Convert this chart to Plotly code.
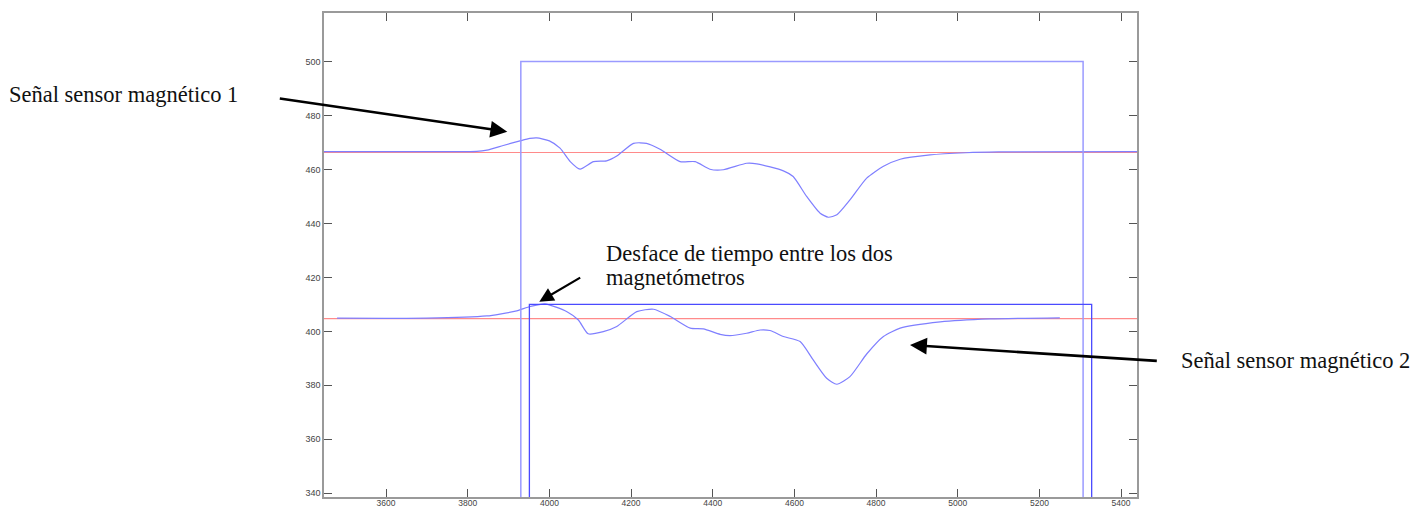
import plotly.graph_objects as go

# ---- data ----
sig1_x = [3448, 3690, 3822, 3847, 3887, 3928, 3952, 3969, 4000, 4026, 4051, 4075, 4108, 4140, 4165,
          4206, 4238, 4271, 4320, 4357, 4393, 4426, 4483, 4508, 4573, 4597, 4630, 4663, 4683,
          4704, 4736, 4777, 4817, 4859, 4932, 5020, 5100, 5439]
sig1_y = [466.6, 466.6, 466.7, 467.2, 468.9, 470.6, 471.5, 471.7, 470.6, 467.9, 462.9, 460.1, 462.9, 463.2, 465.0,
          469.7, 469.7, 467.5, 462.9, 462.9, 460.1, 459.9, 462.3, 462.1, 459.5, 457.4, 450.0, 443.8, 442.3,
          443.2, 448.7, 456.8, 461.1, 463.8, 465.4, 466.2, 466.5, 466.6]

sig2_x = [3480, 3700, 3847, 3879, 3920, 3953, 3989, 4043, 4071, 4095, 4132, 4165, 4214, 4255, 4296,
          4345, 4377, 4418, 4442, 4483, 4516, 4540, 4573, 4614, 4646, 4679, 4704, 4736, 4777,
          4818, 4859, 4957, 5079, 5250]
sig2_y = [404.9, 404.9, 405.7, 406.4, 407.6, 409.2, 410.2, 407.3, 404.2, 399.1, 399.9, 401.8, 407.3, 408.2, 405.5,
          401.2, 400.9, 398.9, 398.4, 399.3, 400.5, 400.3, 398.1, 396.2, 389.4, 382.6, 380.4, 383.2, 391.6,
          398.1, 401.2, 403.5, 404.6, 405.0]

ref1_x = [3448, 5439]
ref1_y = [466.3, 466.3]
ref2_x = [3448, 5439]
ref2_y = [404.7, 404.7]

pulse1_x = [3930, 3930, 5307, 5307]
pulse1_y = [0, 500, 500, 0]
pulse2_x = [3951, 3951, 5328, 5328]
pulse2_y = [0, 410, 410, 0]

x_range = [3448, 5439]
y_range = [338.6, 518]

labels = ["Señal sensor magnético 1", "Desface de tiempo entre los dos", "magnetómetros",
          "Señal sensor magnético 2"]

# ---- layout geometry (page pixels; page body has an 8px margin) ----
OFF = 8
W, H = 1424 - OFF, 508 - OFF
L, R, T, B = 324, 1137, 13, 497  # plot area in page pixels


def px_x(p):
    return (p - L) / (R - L)


def px_y(p):
    return (B - p) / (B - T)


fig = go.Figure()
fig.add_trace(go.Scatter(x=ref1_x, y=ref1_y, mode="lines", line=dict(color="#ff8a8a", width=1.2)))
fig.add_trace(go.Scatter(x=ref2_x, y=ref2_y, mode="lines", line=dict(color="#ff8a8a", width=1.2)))
fig.add_trace(go.Scatter(x=sig1_x, y=sig1_y, mode="lines", line=dict(color="#7f7fff", width=1.2, shape="spline", smoothing=0.6)))
fig.add_trace(go.Scatter(x=sig2_x, y=sig2_y, mode="lines", line=dict(color="#7f7fff", width=1.2, shape="spline", smoothing=0.6)))
fig.add_trace(go.Scatter(x=pulse1_x, y=pulse1_y, mode="lines", line=dict(color="#9a9aff", width=1.5)))
fig.add_trace(go.Scatter(x=pulse2_x, y=pulse2_y, mode="lines", line=dict(color="#4a4aff", width=1.3)))

font_txt = dict(family="Liberation Serif", size=22.5, color="#111111")
ann = []
ann.append(dict(text=labels[0], xref="paper", yref="paper", x=px_x(7), y=px_y(94.6),
                xanchor="left", yanchor="middle", showarrow=False, font=font_txt))
ann.append(dict(text=labels[1], xref="paper", yref="paper", x=px_x(604), y=px_y(254),
                xanchor="left", yanchor="middle", showarrow=False, font=font_txt))
ann.append(dict(text=labels[2], xref="paper", yref="paper", x=px_x(604), y=px_y(277.3),
                xanchor="left", yanchor="middle", showarrow=False, font=font_txt))
ann.append(dict(text=labels[3], xref="paper", yref="paper", x=px_x(1179), y=px_y(360.6),
                xanchor="left", yanchor="middle", showarrow=False, font=font_txt))

arrows = [((507.3, 131.7), (278.3, 98.3), 2.6),
          ((539.3, 301.7), (581.7, 276.7), 2.2),
          ((910.0, 345.0), (1158.3, 361.0), 2.6)]
for (tx, ty), (sx, sy), w in arrows:
    ann.append(dict(text="", xref="paper", yref="paper", x=px_x(tx), y=px_y(ty),
                    ax=sx - tx, ay=sy - ty, axref="pixel", ayref="pixel",
                    showarrow=True, arrowhead=2, arrowsize=1.3, arrowwidth=w,
                    arrowcolor="#000000", standoff=0))

axis_common = dict(showgrid=False, zeroline=False, ticks="inside", ticklen=8, tickwidth=1,
                   tickcolor="#555555", showline=True, linecolor="#9a9a9a", linewidth=1.5,
                   mirror="ticks", automargin=False)

fig.update_layout(
    width=W, height=H,
    margin=dict(l=L - OFF, r=1424 - R, t=T - OFF, b=508 - B, pad=0),
    paper_bgcolor="white", plot_bgcolor="white",
    showlegend=False,
    annotations=ann,
    xaxis=dict(range=x_range, tick0=3600, dtick=200, ticklabelstandoff=-3,
               tickfont=dict(family="Liberation Sans", size=8.5, color="#444444"), **axis_common),
    yaxis=dict(range=y_range, tick0=340, dtick=20,
               tickfont=dict(family="Liberation Sans", size=9, color="#444444"), **axis_common),
)

fig.write_html("out.html")
